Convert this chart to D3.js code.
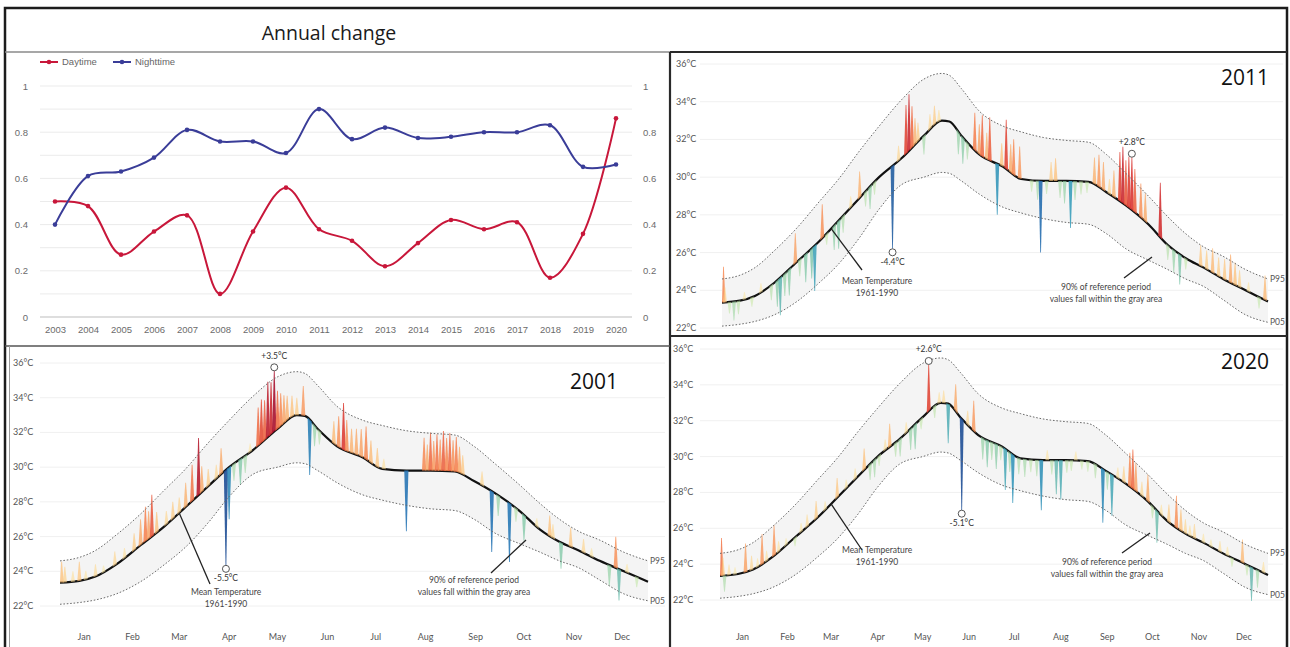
<!DOCTYPE html>
<html>
<head>
<meta charset="utf-8">
<script src="https://cdn.jsdelivr.net/npm/d3@7"></script>
<style>
  html, body { margin: 0; padding: 0; background: #fff; }
  svg { display: block; font-family: Lato, "Open Sans", sans-serif; }
</style>
</head>
<body>
<svg id="fig" width="1290" height="647"></svg>
<script>
// ---------- Annual change (share of anomalous days) ----------
const years = [2003, 2004, 2005, 2006, 2007, 2008, 2009, 2010, 2011, 2012, 2013, 2014, 2015, 2016, 2017, 2018, 2019, 2020];
const daytime = [0.50, 0.48, 0.27, 0.37, 0.44, 0.10, 0.37, 0.56, 0.38, 0.33, 0.22, 0.32, 0.42, 0.38, 0.41, 0.17, 0.36, 0.86];
const nighttime = [0.40, 0.61, 0.63, 0.69, 0.81, 0.76, 0.76, 0.71, 0.90, 0.77, 0.82, 0.775, 0.78, 0.80, 0.80, 0.83, 0.65, 0.66];
const shareTicks = [0, 0.2, 0.4, 0.6, 0.8, 1];
const shareGrid = [0, 0.1, 0.2, 0.3, 0.4, 0.5, 0.6, 0.7, 0.8, 0.9, 1];

// ---------- Daily temperature panels ----------
const months = ["Jan", "Feb", "Mar", "Apr", "May", "Jun", "Jul", "Aug", "Sep", "Oct", "Nov", "Dec"];
const monthMid = [15, 45, 74, 105, 135, 166, 196, 227, 258, 288, 319, 349];
const tempTicks = [22, 24, 26, 28, 30, 32, 34, 36];

// Reference period 1961-1990 (day of year, mean, 95th and 5th percentile)
const refDays = [0, 12, 22, 35, 50, 65, 78, 92, 105, 120, 135, 147, 152, 160, 172, 188, 200, 215, 230, 245, 257, 270, 285, 298, 310, 322, 335, 350, 365];
const refMean = [23.35, 23.45, 23.7, 24.4, 25.5, 26.6, 27.7, 28.9, 30.0, 31.0, 32.2, 33.0, 32.95, 32.2, 31.2, 30.55, 29.9, 29.8, 29.8, 29.75, 29.2, 28.5, 27.5, 26.4, 25.7, 25.2, 24.6, 24.0, 23.4];
const refP95 = [24.6, 24.8, 25.2, 26.1, 27.3, 28.7, 29.9, 31.4, 32.7, 34.1, 35.2, 35.5, 35.4, 34.7, 33.5, 32.7, 32.4, 32.1, 31.95, 31.85, 31.2, 30.2, 29.0, 27.9, 27.0, 26.3, 25.8, 25.1, 24.6];
const refP05 = [22.1, 22.2, 22.35, 22.7, 23.4, 24.4, 25.4, 26.8, 28.3, 29.6, 30.0, 30.25, 30.2, 29.8, 29.1, 28.4, 28.1, 27.8, 27.6, 27.5, 27.0, 26.2, 25.6, 25.1, 24.6, 24.2, 23.5, 22.7, 22.3];

// Daily departures from the reference mean: [day of year, anomaly °C]
const anom2001 = [
  [1, 1.2], [3, 0.9], [8, 0.6], [12, 1.1], [16, 0.5], [22, 0.7], [27, 0.4],
  [34, 0.8], [40, 0.6], [46, 1.0], [50, 1.5], [53, 2.0], [55, 1.6], [57, 2.4], [60, 1.2],
  [66, 0.8], [70, 1.0], [74, 0.9], [78, 1.4], [82, 2.1], [86, 3.3], [88, 1.5], [92, 1.0],
  [97, 0.8], [100, 1.5], [103, -5.5], [105, -3.0], [108, -1.0], [112, -1.5], [115, -1.0], [118, 0.5],
  [123, 2.2], [125, 2.5], [127, 2.3], [129, 3.2], [131, 3.0], [133, 3.5], [135, 2.2], [137, 1.9], [139, 1.6], [141, 1.4], [144, 1.2], [147, 1.0], [151, 1.7],
  [155, -3.2], [158, -1.2], [161, -0.8],
  [170, 1.3], [173, 1.8], [176, 2.7], [178, 1.8], [181, 1.4], [184, 1.5], [187, 1.6], [190, 1.9], [193, 1.3], [197, 1.1], [201, 0.6],
  [215, -3.5],
  [226, 1.9], [228, 1.5], [230, 2.2], [232, 1.7], [234, 2.1], [236, 1.8], [238, 2.3], [240, 1.9], [242, 2.2], [244, 1.8], [246, 2.0], [248, 1.5], [250, 1.1],
  [262, 0.8], [268, -3.5], [272, -1.2], [279, -3.4], [283, -0.8],
  [288, -1.5], [296, 0.5], [304, 1.2], [306, 0.8],
  [311, -1.5], [317, 1.1], [325, 0.8], [330, 0.5],
  [341, -1.2], [345, 1.8], [347, -1.8], [352, 0.5], [358, -0.6]
];
const anom2011 = [
  [1, 1.9], [2, 0.8], [5, -0.6], [8, -1.0], [11, -0.7], [15, 0.4], [20, -0.5], [26, 0.5],
  [33, -0.8], [37, -1.4], [39, -2.0], [42, -1.2], [45, -1.4], [49, 1.6], [52, -0.9], [56, -1.5], [60, -1.6], [62, -2.4], [67, 1.8], [70, -0.6],
  [75, -1.3], [78, -1.5], [81, -0.9], [86, 0.6], [92, 1.4], [96, -0.8], [99, -1.2], [102, -0.7], [114, -4.4], [118, 0.8],
  [123, 2.6], [125, 3.0], [127, 2.2], [129, 1.4], [131, 1.0], [135, -1.0], [139, 0.8], [142, 1.0], [145, 0.6],
  [158, -1.2], [161, -1.4], [164, -0.9], [169, 2.0], [172, 1.6], [174, 2.2], [177, 1.4], [179, 2.3], [184, -2.7], [187, 1.2], [190, 2.6], [193, 1.5], [195, 1.9], [199, 1.7],
  [207, -0.6], [211, -1.0], [213, -3.8], [217, -0.7], [220, 1.0], [223, 1.2], [226, -0.9], [229, -1.2], [233, -2.5], [236, -1.0], [240, -0.7], [244, -0.6],
  [249, 1.4], [252, 1.7], [255, 1.5], [259, 0.8], [262, 1.4], [266, 2.6], [268, 3.0], [270, 2.4], [272, 2.7], [274, 2.8], [276, 2.3], [280, 1.8], [283, 1.5], [293, 2.9],
  [298, -0.8], [302, -1.2], [306, -1.6], [310, -0.6],
  [320, 1.1], [324, 1.0], [328, 1.3], [332, 1.0], [336, 1.1], [340, 1.5], [343, 1.2], [346, 0.9], [352, 0.5], [359, -0.6], [363, 1.3]
];
const anom2020 = [
  [1, 2.1], [2, 1.0], [3, -0.9], [6, 0.6], [10, 0.4], [17, 1.6], [21, 0.8], [25, 0.5], [28, 1.7], [31, 0.6], [36, 1.7], [39, 0.6], [44, 0.4], [50, -0.5], [54, 0.5], [58, 0.7], [64, 1.0], [70, 0.5],
  [78, 1.1], [84, 0.5], [90, 0.6], [96, 1.2], [100, -0.9], [103, -1.0], [106, -0.6], [110, 0.6], [113, 1.3], [117, -0.8], [120, -1.0], [124, 0.6], [127, -1.2], [130, -1.4], [134, -0.6],
  [139, 2.6], [143, -0.7], [146, 0.6], [149, 0.7], [152, -2.2], [157, 1.5], [161, -5.1], [165, 0.8], [169, 1.7],
  [175, -1.2], [178, -1.5], [181, -1.0], [184, -1.4], [187, -0.8], [190, -2.3], [193, -1.1], [195, -2.7], [199, -0.9], [203, -1.0], [207, -0.7], [211, -0.9], [214, -2.8], [218, 0.55], [221, -0.8], [224, -1.9], [227, -2.2], [231, -0.7], [234, -0.6], [237, 0.5], [241, -0.5], [245, -0.6],
  [250, -0.8], [255, -3.0], [258, -1.0], [261, -2.3], [265, 0.6], [269, 0.9], [273, 1.9], [275, 2.2], [277, 1.6], [281, 0.8], [285, 1.5], [288, -0.7], [291, -1.8], [294, 0.6], [299, 1.0], [304, 1.8], [307, 1.2],
  [310, 0.8], [313, 0.6], [316, 0.8], [322, 0.5], [327, 0.4], [333, 0.6], [338, 0.5], [341, -0.5], [348, 1.3], [351, -0.6], [354, -1.9], [358, -1.0], [362, 0.6]
];
// Days whose departure is labelled
const extremes2001 = [133, 103];
const extremes2011 = [274, 114];
const extremes2020 = [139, 161];

const svg = d3.select("#fig");

// ---------- frame and dividers ----------
svg.append("rect").attr("x", 5).attr("y", 8).attr("width", 1282).attr("height", 660)
  .attr("fill", "none").attr("stroke", "#1c1c1c").attr("stroke-width", 2.5);
const dividers = [
  [5, 52, 670, 52, "#8a8a8a", 1.5],
  [670, 52, 1287, 52, "#2a2a2a", 2],
  [670, 52, 670, 647, "#2a2a2a", 2.2],
  [5, 346, 670, 346, "#555", 1.5],
  [670, 336, 1287, 336, "#2a2a2a", 2],
  [9.5, 346, 9.5, 647, "#9a9a9a", 1]
];
svg.selectAll("line.div").data(dividers).join("line").attr("class", "div")
  .attr("x1", d => d[0]).attr("y1", d => d[1]).attr("x2", d => d[2]).attr("y2", d => d[3])
  .attr("stroke", d => d[4]).attr("stroke-width", d => d[5]);

svg.append("text").attr("x", 329).attr("y", 40).attr("text-anchor", "middle")
  .attr("font-family", "'Open Sans', sans-serif").attr("font-size", 19.5).attr("fill", "#1a1a1a")
  .text("Annual change");

// ---------- line chart ----------
(function drawShareChart() {
  const g = svg.append("g").attr("font-family", "'Liberation Sans', Arial, sans-serif");
  const x = d3.scalePoint().domain(years).range([55, 616]);
  const y = d3.scaleLinear().domain([0, 1]).range([317, 86]);

  g.selectAll("line.grid").data(shareGrid).join("line").attr("class", "grid")
    .attr("x1", 40).attr("x2", 632).attr("y1", d => y(d)).attr("y2", d => y(d))
    .attr("stroke", d => d === 0 ? "#bdbdbd" : "#ebebeb").attr("stroke-width", 1);

  const left = g.append("g").attr("transform", "translate(28,0)")
    .call(d3.axisLeft(y).tickValues(shareTicks).tickSize(0).tickPadding(0).tickFormat(d3.format("~g")));
  const right = g.append("g").attr("transform", "translate(643,0)")
    .call(d3.axisRight(y).tickValues(shareTicks).tickSize(0).tickPadding(0).tickFormat(d3.format("~g")));
  const bottom = g.append("g").attr("transform", "translate(0,324)")
    .call(d3.axisBottom(x).tickSize(0).tickPadding(2));
  [left, right, bottom].forEach(a => {
    a.select(".domain").remove();
    a.selectAll("text").attr("fill", "#6b6b6b").attr("font-size", 9.5).attr("font-family", "'Liberation Sans', Arial, sans-serif");
  });

  const series = [
    { name: "Daytime", values: daytime, color: "#c8173a" },
    { name: "Nighttime", values: nighttime, color: "#3a3d98" }
  ];
  const line = d3.line().x((d, i) => x(years[i])).y(d => y(d)).curve(d3.curveCatmullRom.alpha(0.5));
  series.forEach(s => {
    g.append("path").attr("d", line(s.values)).attr("fill", "none")
      .attr("stroke", s.color).attr("stroke-width", 2);
    g.selectAll(null).data(s.values).join("circle")
      .attr("cx", (d, i) => x(years[i])).attr("cy", d => y(d)).attr("r", 2.3).attr("fill", s.color);
  });

  // legend
  const lg = g.append("g").attr("transform", "translate(0,62)");
  const legendPos = [40, 113];
  series.forEach((s, i) => {
    const lx = legendPos[i];
    lg.append("line").attr("x1", lx).attr("x2", lx + 18).attr("y1", 0).attr("y2", 0)
      .attr("stroke", s.color).attr("stroke-width", 2);
    lg.append("circle").attr("cx", lx + 9).attr("cy", 0).attr("r", 2.3).attr("fill", s.color);
    lg.append("text").attr("x", lx + 22).attr("y", 3).attr("font-size", 9.5).attr("fill", "#666").text(s.name);
  });
})();

// ---------- temperature panels ----------
const anomColor = d3.scaleLinear()
  .domain([-5, -3.5, -2.5, -1.5, -0.5, 0, 0.5, 1.2, 2.0, 2.8, 3.5])
  .range(["#1f4f96", "#2876b5", "#3a9fbb", "#7cc6a3", "#c9e8a6", "#eef5bb", "#fde49c", "#fdbb6c", "#f57a45", "#da3734", "#a9122f"])
  .clamp(true);

function fmtAnom(a) { return (a > 0 ? "+" : "-") + Math.abs(a).toFixed(1) + "°C"; }

function drawPanel(cfg) {
  const g = svg.append("g");
  const x = d3.scaleLinear().domain([0, 365]).range(cfg.xRange);
  const y = d3.scaleLinear().domain([22, 36]).range([cfg.yBottom, cfg.yTop]);

  // horizontal grid and tick labels
  g.selectAll("line.grid").data(tempTicks).join("line").attr("class", "grid")
    .attr("x1", cfg.gridX[0]).attr("x2", cfg.gridX[1])
    .attr("y1", d => y(d)).attr("y2", d => y(d)).attr("stroke", "#f0f0f0");
  g.selectAll("text.tick").data(tempTicks).join("text").attr("class", "tick")
    .attr("x", cfg.labelX).attr("y", d => y(d) + 3).attr("font-size", 9)
    .attr("fill", "#555").text(d => d + "°C");

  const ref = refDays.map((d, i) => ({ d, m: refMean[i], hi: refP95[i], lo: refP05[i] }));

  // gray 90% band
  g.append("path").datum(ref)
    .attr("d", d3.area().x(r => x(r.d)).y0(r => y(r.lo)).y1(r => y(r.hi)).curve(d3.curveMonotoneX))
    .attr("fill", "#f4f4f4");

  // mean line path (stroked later, sampled for the spike bases)
  const meanPath = g.append("path").datum(ref)
    .attr("d", d3.line().x(r => x(r.d)).y(r => y(r.m)).curve(d3.curveMonotoneX))
    .attr("fill", "none").attr("stroke", "none");
  const node = meanPath.node();
  const total = node.getTotalLength();
  const samples = d3.range(0, 1601).map(k => node.getPointAtLength(total * k / 1600));
  const bis = d3.bisector(p => p.x).left;
  function meanY(px) {
    const i = Math.min(Math.max(bis(samples, px), 1), samples.length - 1);
    const a = samples[i - 1], b = samples[i];
    const t = b.x === a.x ? 0 : (px - a.x) / (b.x - a.x);
    return a.y + t * (b.y - a.y);
  }
  const meanAt = d => y.invert(meanY(x(d)));

  // daily departure spikes
  const w = 1.3;
  g.selectAll("path.spike").data(cfg.anoms).join("path").attr("class", "spike")
    .attr("d", ([d, a]) => {
      const d0 = Math.max(0, d - w), d1 = Math.min(365, d + w);
      const top = y(meanAt(d) + a);
      return "M" + x(d0) + "," + meanY(x(d0)) +
        "L" + x(d - 0.25) + "," + top +
        "L" + x(d + 0.25) + "," + top +
        "L" + x(d1) + "," + meanY(x(d1)) + "Z";
    })
    .attr("fill", ([d, a]) => anomColor(a)).attr("fill-opacity", ([d, a]) => 0.5 + 0.4 * Math.min(Math.abs(a) / 2.5, 1));

  // percentile dotted lines
  ["hi", "lo"].forEach(k => {
    g.append("path").datum(ref)
      .attr("d", d3.line().x(r => x(r.d)).y(r => y(r[k])).curve(d3.curveMonotoneX))
      .attr("fill", "none").attr("stroke", "#6a6a6a").attr("stroke-width", 1)
      .attr("stroke-dasharray", "1.6,1.8");
  });
  g.append("text").attr("x", x(365) + 2).attr("y", y(refP95[refP95.length - 1]) + 3)
    .attr("font-size", 8.5).attr("fill", "#555").text("P95");
  g.append("text").attr("x", x(365) + 2).attr("y", y(refP05[refP05.length - 1]) + 3)
    .attr("font-size", 8.5).attr("fill", "#555").text("P05");

  // mean line
  meanPath.attr("stroke", "#111").attr("stroke-width", 2.2);

  // labelled extremes
  cfg.extremes.forEach(day => {
    const a = cfg.anoms.find(p => p[0] === day)[1];
    const cx = x(day), cy = y(meanAt(day) + a);
    const r = 3.5;
    g.append("circle").attr("cx", cx).attr("cy", a > 0 ? cy - r : cy + r).attr("r", r)
      .attr("fill", "#fff").attr("stroke", "#555").attr("stroke-width", 1);
    g.append("text").attr("x", cx).attr("y", a > 0 ? cy - 2 * r - 5 : cy + 2 * r + 9)
      .attr("text-anchor", "middle").attr("font-size", 8.5).attr("fill", "#333").text(fmtAnom(a));
  });

  // annotation: mean temperature
  const mt = cfg.meanNote;
  g.append("line").attr("x1", x(mt.day)).attr("y1", meanY(x(mt.day)))
    .attr("x2", mt.end[0]).attr("y2", mt.end[1]).attr("stroke", "#222").attr("stroke-width", 1.3);
  g.append("text").attr("x", mt.x).attr("y", mt.y).attr("text-anchor", "middle")
    .attr("font-size", 8.5).attr("fill", "#444")
    .selectAll("tspan").data(["Mean Temperature", "1961-1990"]).join("tspan")
    .attr("x", mt.x).attr("dy", (d, i) => i ? 12 : 0).text(d => d);

  // annotation: reference band
  const bn = cfg.bandNote;
  g.append("line").attr("x1", bn.start[0]).attr("y1", bn.start[1])
    .attr("x2", bn.end[0]).attr("y2", bn.end[1]).attr("stroke", "#222").attr("stroke-width", 1.3);
  g.append("text").attr("x", bn.x).attr("y", bn.y).attr("text-anchor", "middle")
    .attr("font-size", 8.5).attr("fill", "#444")
    .selectAll("tspan").data(["90% of reference period", "values fall within the gray area"]).join("tspan")
    .attr("x", bn.x).attr("dy", (d, i) => i ? 12 : 0).text(d => d);

  // month labels
  if (cfg.monthY) {
    g.selectAll("text.month").data(months).join("text").attr("class", "month")
      .attr("x", (m, i) => x(monthMid[i])).attr("y", cfg.monthY).attr("text-anchor", "middle")
      .attr("font-size", 9).attr("fill", "#555").text(m => m);
  }

  // year label
  g.append("text").attr("x", cfg.title[0]).attr("y", cfg.title[1]).attr("text-anchor", "middle")
    .attr("font-family", "'Open Sans', sans-serif").attr("font-size", 21).attr("fill", "#111")
    .text(cfg.year);
}

drawPanel({
  year: "2011", anoms: anom2011, extremes: extremes2011,
  xRange: [722, 1268], yTop: 64, yBottom: 328, gridX: [700, 1283], labelX: 676,
  title: [1245, 85],
  meanNote: { day: 73, end: [862, 270], x: 877, y: 284 },
  bandNote: { start: [1124, 278], end: [1152, 257], x: 1106, y: 290 },
  monthY: null
});
drawPanel({
  year: "2001", anoms: anom2001, extremes: extremes2001,
  xRange: [60, 648], yTop: 363, yBottom: 606, gridX: [40, 665], labelX: 13,
  title: [594, 389],
  meanNote: { day: 74, end: [210, 584], x: 226, y: 595 },
  bandNote: { start: [491, 573], end: [526, 540], x: 474, y: 583 },
  monthY: 640
});
drawPanel({
  year: "2020", anoms: anom2020, extremes: extremes2020,
  xRange: [720, 1268], yTop: 349, yBottom: 600, gridX: [700, 1283], labelX: 673,
  title: [1245, 369],
  meanNote: { day: 74, end: [862, 550], x: 877, y: 553 },
  bandNote: { start: [1122, 553], end: [1150, 533], x: 1107, y: 565 },
  monthY: 640
});
</script>
</body>
</html>
